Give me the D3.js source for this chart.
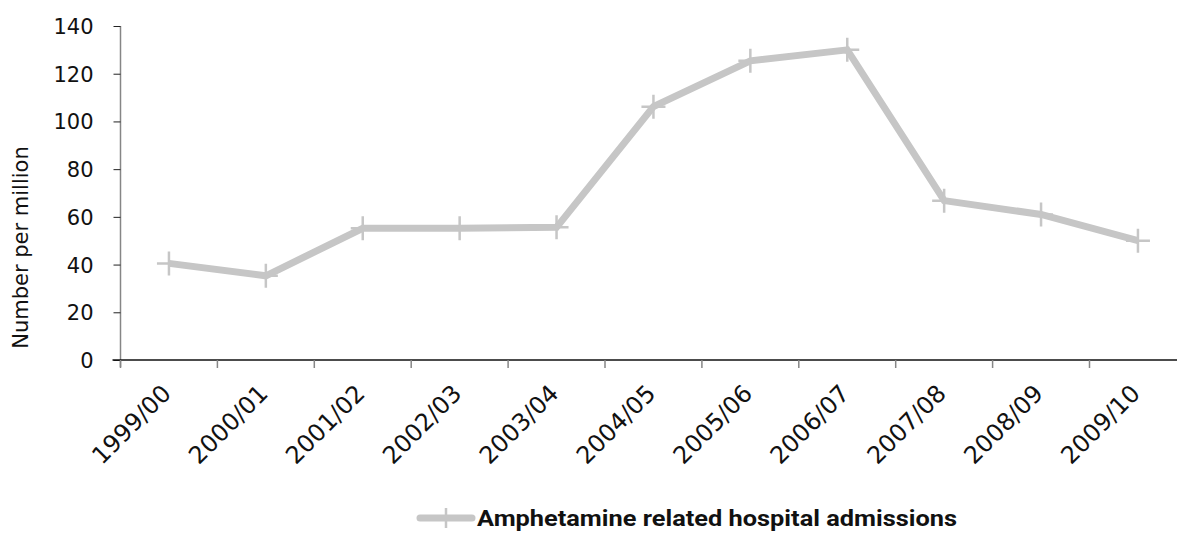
<!DOCTYPE html>
<html><head><meta charset="utf-8">
<script src="https://cdn.jsdelivr.net/npm/d3@7"></script>
<style>html,body{margin:0;padding:0;background:#fff;}svg{display:block;}</style>
</head><body>
<svg id="c" width="1177" height="533"></svg>
<script>
const categories = ["1999/00","2000/01","2001/02","2002/03","2003/04","2004/05","2005/06","2006/07","2007/08","2008/09","2009/10"];
const values = [40.5, 35.3, 55.2, 55.2, 55.6, 106.2, 125.4, 130, 66.8, 61, 50];
const yTicks = [0,20,40,60,80,100,120,140];
const seriesName = "Amphetamine related hospital admissions";
const yTitle = "Number per million";

(function(){
const svg = d3.select("#c");
const mLeft = 120.5, mRight = 1186.4, mTop = 26, mBottom = 360;
const x = d3.scaleBand().domain(categories).range([mLeft, mRight]).padding(0);
const y = d3.scaleLinear().domain([0,140]).range([mBottom, mTop]);
const font = "'DejaVu Sans', sans-serif";
const lineColor = "#c6c6c6";

// y axis
const gy = svg.append("g").attr("transform", `translate(${mLeft},0)`)
  .call(d3.axisLeft(y).tickValues(yTicks).tickSize(7).tickPadding(20).tickFormat(d3.format("d")));
gy.select(".domain").attr("stroke", "#868686").attr("stroke-width", 1.5).attr("d", `M0,${mTop}V${mBottom+7}`);
gy.selectAll(".tick line").attr("stroke", "#222");
gy.selectAll(".tick text").attr("font-family", font).attr("font-size", 21).attr("fill", "#111").attr("dy", "0.36em");

// x axis
const gx = svg.append("g").attr("transform", `translate(0,${mBottom})`);
gx.append("line").attr("x1", mLeft-8).attr("x2", 1177).attr("y1", 0).attr("y2", 0).attr("stroke", "#111").attr("stroke-width", 1.3);
gx.selectAll("line.tk").data(categories).join("line").attr("class","tk")
  .attr("x1", d => x(d)).attr("x2", d => x(d)).attr("y1", 0).attr("y2", 8)
  .attr("stroke", "#868686").attr("stroke-width", 1.5);
gx.selectAll("text.lb").data(categories).join("text").attr("class","lb")
  .attr("transform", d => `translate(${x(d)+x.bandwidth()/2+3.5},${35}) rotate(-45)`)
  .attr("text-anchor", "end")
  .attr("font-family", font).attr("font-size", 24).attr("fill", "#111")
  .text(d => d);

// y title
svg.append("text").attr("transform", `translate(28,247.5) rotate(-90)`)
  .attr("text-anchor", "middle").attr("font-family", font).attr("font-size", 21).attr("fill", "#111")
  .text(yTitle);

// line
const line = d3.line().x((d,i) => x(categories[i]) + x.bandwidth()/2).y(d => y(d));
svg.append("path").datum(values).attr("d", line).attr("fill", "none")
  .attr("stroke", lineColor).attr("stroke-width", 7).attr("stroke-linejoin", "miter");

const cross = 12;
svg.selectAll("path.mk").data(values).join("path").attr("class","mk")
  .attr("d", (d,i) => {
    const cx = x(categories[i]) + x.bandwidth()/2, cy = y(d);
    return `M${cx-cross},${cy}H${cx+cross}M${cx},${cy-cross}V${cy+cross}`;
  })
  .attr("stroke", lineColor).attr("stroke-width", 2.5).attr("fill", "none");

// legend
const lg = svg.append("g").attr("transform", "translate(420,518)");
lg.append("line").attr("x1", 0).attr("x2", 52).attr("y1", 0).attr("y2", 0)
  .attr("stroke", lineColor).attr("stroke-width", 7).attr("stroke-linecap", "round");
lg.append("path").attr("d", `M26,-10V10`).attr("stroke", lineColor).attr("stroke-width", 2.5);
lg.append("text").attr("x", 57).attr("y", 0).attr("dy", "0.36em")
  .attr("font-family", "Roboto, sans-serif").attr("font-weight", 700).attr("font-size", 22)
  .attr("fill", "#111").attr("textLength", 480).attr("lengthAdjust", "spacingAndGlyphs")
  .text(seriesName);
})();
</script>
</body></html>
